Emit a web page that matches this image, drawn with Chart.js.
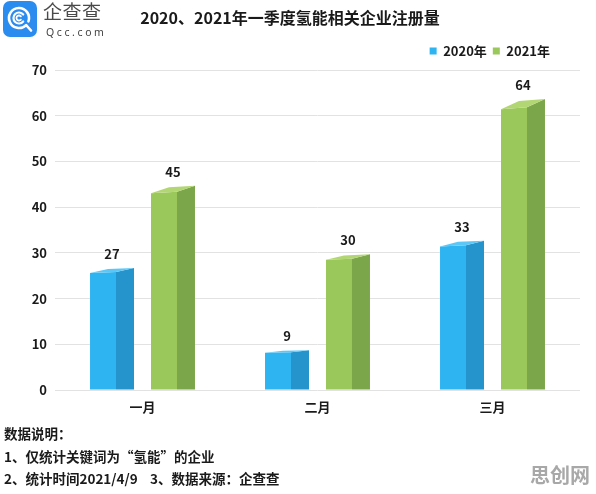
<!DOCTYPE html>
<html><head><meta charset="utf-8">
<script src="https://cdn.jsdelivr.net/npm/chart.js@4.4.1/dist/chart.umd.min.js"></script>
<style>
html,body{margin:0;padding:0;background:#fff;}
#wrap{position:relative;width:596px;height:494px;overflow:hidden;font-family:'Noto Sans CJK SC','Noto Sans',sans-serif;}
#c{position:absolute;left:0;top:0;}
.note{position:absolute;left:4px;font-weight:700;font-size:13.5px;color:#1a1a1a;white-space:pre;line-height:20px;}
#brand{position:absolute;left:43px;top:-2px;font-size:19px;line-height:26px;color:#4a4a4a;letter-spacing:0.5px;}
#brand2{position:absolute;left:46px;top:25px;font-size:10.5px;line-height:14px;color:#444;letter-spacing:2.6px;font-family:'Noto Sans','DejaVu Sans',sans-serif;}
#wm{position:absolute;left:530px;top:462px;font-size:20px;line-height:26px;font-weight:700;color:#a8a8a8;}
</style></head>
<body><div id="wrap">
<canvas id="c" width="596" height="494"></canvas>
<svg width="34" height="36" viewBox="0 0 34 36" style="position:absolute;left:3px;top:1px">
<rect x="0" y="0" width="34" height="36" rx="7" fill="#2b8cf0"/>
<path d="M23.07 24.07 A10 10 0 1 1 25.4 20.4" fill="none" stroke="#fff" stroke-width="2.6" stroke-linecap="round"/>
<path d="M23.5 24.5 L28 29.5" stroke="#fff" stroke-width="2.6" stroke-linecap="round"/>
<path d="M20.2 13.5 A5.5 5.5 0 1 0 20.2 20.5" fill="none" stroke="#fff" stroke-width="2.2" stroke-linecap="round"/>
<path d="M17.9 15.4 A2.5 2.5 0 1 0 17.9 18.6" fill="none" stroke="#fff" stroke-width="1.8" stroke-linecap="round"/>
</svg>
<div id="brand">企查查</div>
<div id="brand2">Qcc.com</div>
<div class="note" style="top:423px">数据说明：</div>
<div class="note" style="top:446px">1、仅统计关键词为“氢能”的企业</div>
<div class="note" style="top:468px">2、统计时间2021/4/9    3、数据来源：企查查</div>
<div id="wm">思创网</div>
</div>
<script>
const chartTitle = '2020、2021年一季度氢能相关企业注册量';
const categories = ['一月', '二月', '三月'];
const seriesNames = ['2020年', '2021年'];
const values2020 = [27, 9, 33];
const values2021 = [45, 30, 64];
const yMin = 0;
const yMax = 70;
const yStep = 10;

const FONT = "'Noto Sans CJK SC','Noto Sans',sans-serif";
const faces2020 = {front: '#2fb4f2', side: '#2594cc', top: '#5cc7f6'};
const faces2021 = {front: '#9bc85a', side: '#7ca64a', top: '#b2d673'};

const bar3d = {
  id: 'bar3d',
  beforeDatasetDraw(chart, args) {
    const ds = chart.data.datasets[args.index];
    const pal = ds.faces;
    const ctx = chart.ctx;
    ctx.save();
    args.meta.data.forEach(el => {
      const p = el.getProps(['x', 'y', 'base', 'width'], true);
      const x0 = p.x - p.width / 2, x2 = p.x + p.width / 2;
      const x1 = x0 + p.width * 26 / 44;
      const dx = x2 - x1;
      const h = p.base - p.y;
      const d = 1 + h * 0.032;
      const backTop = p.y + 1.5;
      const frontL = backTop + d, frontR = backTop + d * 0.8;
      const poly = (pts, c) => {
        ctx.beginPath();
        ctx.moveTo(pts[0][0], pts[0][1]);
        for (let i = 1; i < pts.length; i++) ctx.lineTo(pts[i][0], pts[i][1]);
        ctx.closePath();
        ctx.fillStyle = c;
        ctx.fill();
      };
      poly([[x0, frontL], [x1, frontR], [x1, p.base], [x0, p.base]], pal.front);
      poly([[x1, frontR], [x2, backTop], [x2, p.base], [x1, p.base]], pal.side);
      poly([[x0, frontL], [x1, frontR], [x2, backTop], [x0 + dx, backTop + d * 0.2]], pal.top);
    });
    ctx.restore();
    return false;
  },
  afterDatasetsDraw(chart) {
    const ctx = chart.ctx;
    ctx.save();
    ctx.font = 'bold 13px ' + FONT;
    ctx.fillStyle = '#1a1a1a';
    ctx.textAlign = 'center';
    ctx.textBaseline = 'middle';
    chart.data.datasets.forEach((ds, i) => {
      chart.getDatasetMeta(i).data.forEach((el, j) => {
        ctx.fillText(String(ds.data[j]), el.x, el.y - 12.5);
      });
    });
    ctx.restore();
  },
  afterLayout(chart) {
    const lg = chart.legend;
    if (lg) {
      lg.left -= 24; lg.right -= 24;
      lg.top -= 2.5; lg.bottom -= 2.5;
    }
  }
};

new Chart(document.getElementById('c'), {
  type: 'bar',
  data: {
    labels: categories,
    datasets: [
      {label: seriesNames[0], data: values2020, backgroundColor: faces2020.front, faces: faces2020},
      {label: seriesNames[1], data: values2021, backgroundColor: faces2021.front, faces: faces2021}
    ]
  },
  options: {
    responsive: false,
    animation: false,
    devicePixelRatio: 1,
    layout: {padding: {top: 0, left: 0, right: 16, bottom: 69.4}},
    categoryPercentage: 0.697,
    barPercentage: 0.721,
    plugins: {
      title: {
        display: true,
        text: chartTitle,
        color: '#1a1a1a',
        font: {family: FONT, size: 16, weight: 'bold'},
        padding: {top: 8.4, bottom: 13.4}
      },
      legend: {
        position: 'top',
        align: 'end',
        labels: {
          boxWidth: 7, boxHeight: 7, padding: 6,
          color: '#1a1a1a',
          font: {family: FONT, size: 13, weight: 'bold'}
        }
      },
      tooltip: {enabled: false}
    },
    scales: {
      x: {
        grid: {display: false, drawTicks: false},
        border: {display: false},
        ticks: {padding: 9.5, color: '#1a1a1a', font: {family: FONT, size: 13, weight: 'bold'}}
      },
      y: {
        min: yMin, max: yMax,
        afterFit(scale) { scale.width = 55; },
        grid: {color: '#e2e2e2', lineWidth: 1, drawTicks: false},
        border: {display: false},
        ticks: {stepSize: yStep, padding: 8, color: '#1a1a1a', font: {family: FONT, size: 13, weight: 'bold'}}
      }
    }
  },
  plugins: [bar3d]
});
</script>
</body></html>
